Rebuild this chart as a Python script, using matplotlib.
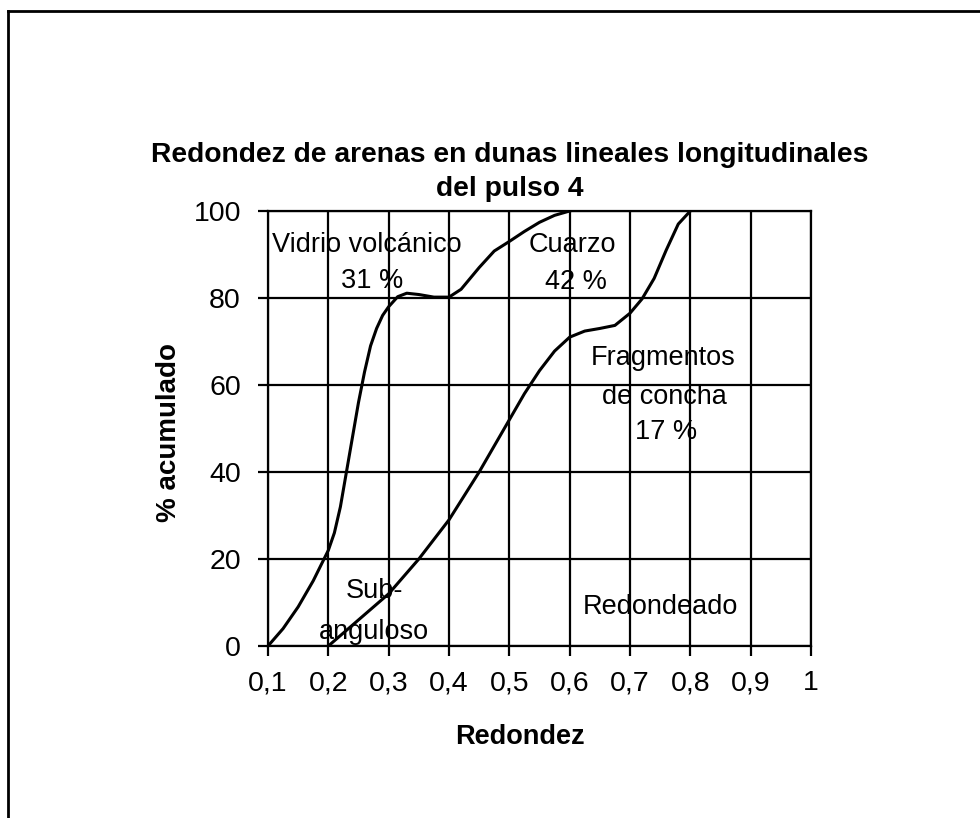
import matplotlib
matplotlib.use("Agg")
import matplotlib.pyplot as plt
from matplotlib.lines import Line2D

plt.rcParams['font.family'] = ['Liberation Sans', 'DejaVu Sans']

# curva del vidrio volcanico
vidrio_x = [0.10, 0.125, 0.15, 0.175, 0.20, 0.21, 0.22, 0.23, 0.24, 0.25, 0.26, 0.27,
            0.28, 0.29, 0.30, 0.315, 0.33, 0.35, 0.375, 0.40, 0.42, 0.45, 0.475,
            0.50, 0.525, 0.55, 0.575, 0.60]
vidrio_y = [0, 4, 9, 15, 22, 26, 32, 40, 48, 56, 63, 69,
            73, 76, 78, 80.3, 81.1, 80.8, 80.2, 80.2, 82, 87, 90.8,
            93, 95.3, 97.4, 99, 100]

# curva de cuarzo / fragmentos de concha
cuarzo_x = [0.20, 0.25, 0.30, 0.35, 0.40, 0.45, 0.50, 0.525, 0.55, 0.575, 0.60, 0.625,
            0.65, 0.675, 0.70, 0.72, 0.74, 0.76, 0.78, 0.80]
cuarzo_y = [0, 6, 12, 20, 29, 40, 52, 58, 63.3, 67.8, 71, 72.4,
            73, 73.7, 76.5, 79.8, 84.5, 91, 97, 100]

x_ticks = [0.1, 0.2, 0.3, 0.4, 0.5, 0.6, 0.7, 0.8, 0.9, 1.0]
x_labels = ['0,1', '0,2', '0,3', '0,4', '0,5', '0,6', '0,7', '0,8', '0,9', '1']
y_ticks = [0, 20, 40, 60, 80, 100]

# etiquetas dentro del grafico: (x, y, texto)
etiquetas = [
    (0.264, 92.2, 'Vidrio volcánico'),
    (0.273, 84.0, '31 %'),
    (0.605, 92.2, 'Cuarzo'),
    (0.610, 83.7, '42 %'),
    (0.755, 66.2, 'Fragmentos'),
    (0.757, 57.2, 'de concha'),
    (0.760, 49.2, '17 %'),
    (0.276, 12.6, 'Sub-'),
    (0.276, 3.2, 'anguloso'),
    (0.750, 9.0, 'Redondeado'),
]

fig = plt.figure(figsize=(9.8, 8.18), dpi=100)
ax = fig.add_axes([268/980, 1-646/818, 543/980, 435/818])

ax.plot(vidrio_x, vidrio_y, color='black', lw=2.2, zorder=3)
ax.plot(cuarzo_x, cuarzo_y, color='black', lw=2.2, zorder=3)

ax.set_xlim(0.1, 1.0)
ax.set_ylim(0, 100)
ax.set_xticks(x_ticks)
ax.set_xticklabels(x_labels)
ax.set_yticks(y_ticks)
ax.grid(True, color='black', lw=1.6)
ax.set_axisbelow(True)
for s in ax.spines.values():
    s.set_linewidth(1.6)
    s.set_color('black')
ax.tick_params(axis='both', direction='out', length=7.5, width=1.6, labelsize=20.5)
ax.tick_params(axis='x', pad=10)
ax.tick_params(axis='y', pad=12)

for x, y, t in etiquetas:
    ax.text(x, y, t, ha='center', va='center', fontsize=19.5, zorder=4)

ax.set_xlabel('Redondez', fontsize=19.5, fontweight='bold')
ax.xaxis.set_label_coords(0.464, -0.18)
ax.set_ylabel('% acumulado', fontsize=20, fontweight='bold')
ax.yaxis.set_label_coords(-0.158, 0.49)

fig.text(510/980, 1-172/818, 'Redondez de arenas en dunas lineales longitudinales\ndel pulso 4',
         ha='center', va='center', fontsize=20.3, fontweight='bold', linespacing=1.35)

# marco del dibujo (solo arriba e izquierda)
fig.add_artist(Line2D([8/980, 1], [1-11/818, 1-11/818], color='black', lw=2, transform=fig.transFigure))
fig.add_artist(Line2D([8/980, 8/980], [0, 1-11/818], color='black', lw=2, transform=fig.transFigure))

fig.savefig('out.png', dpi=100)
